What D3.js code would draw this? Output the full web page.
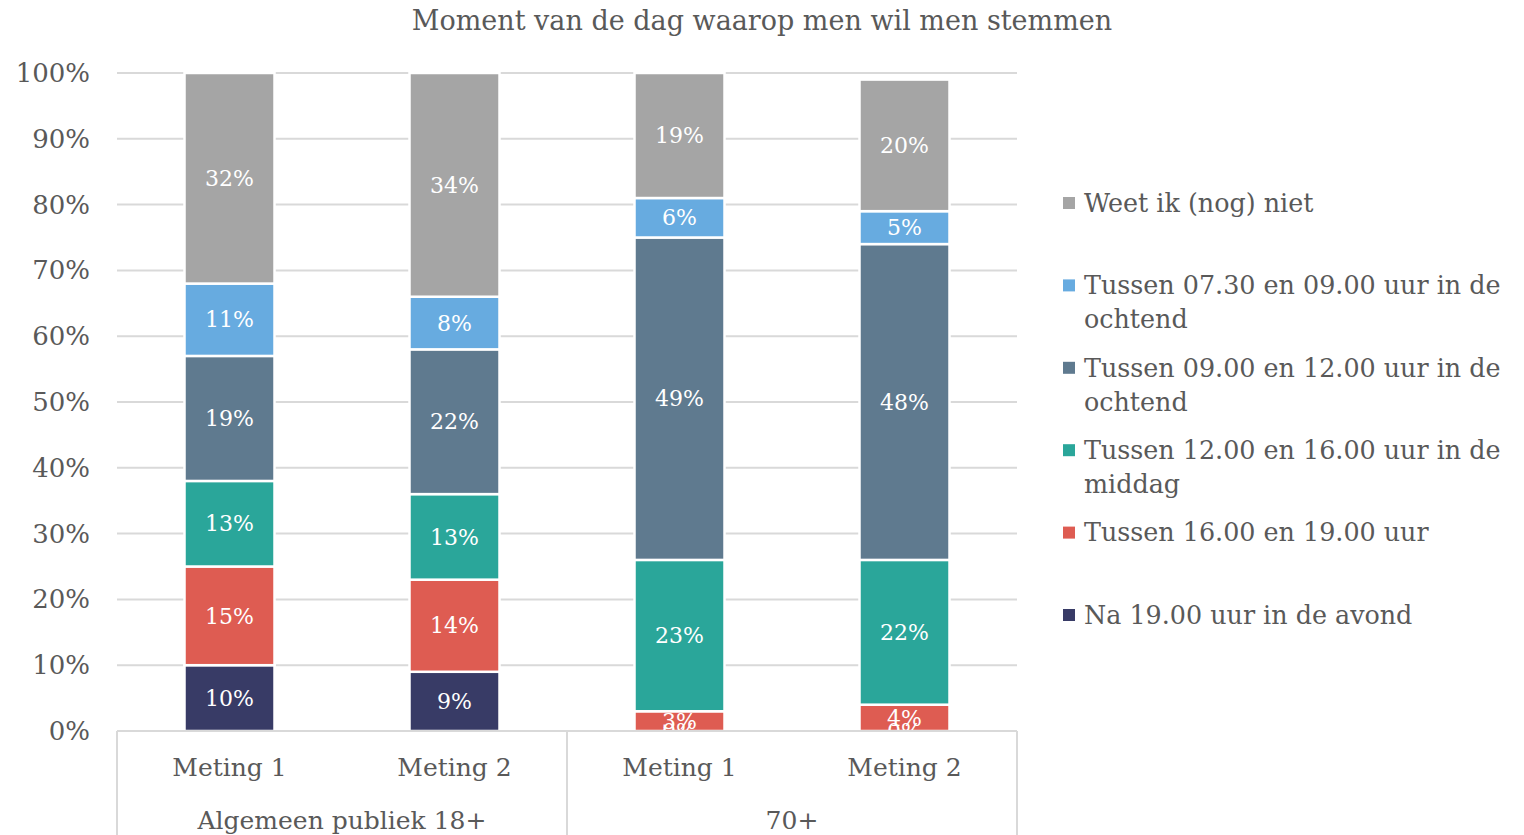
<!DOCTYPE html>
<html>
<head>
<meta charset="utf-8">
<script src="https://cdn.jsdelivr.net/npm/d3@7"></script>
<style>
  html, body { margin: 0; padding: 0; background: #fff; }
  svg { display: block; font-family: "DejaVu Serif", serif; }
</style>
</head>
<body>
<svg id="chart" width="1524" height="835"></svg>
<script>
// ---- data ----
const title = "Moment van de dag waarop men wil men stemmen";
const groups = ["Algemeen publiek 18+", "70+"];
const measurements = ["Meting 1", "Meting 2"];
const seriesNames = [
  "Na 19.00 uur in de avond",
  "Tussen 16.00 en 19.00 uur",
  "Tussen 12.00 en 16.00 uur in de middag",
  "Tussen 09.00 en 12.00 uur in de ochtend",
  "Tussen 07.30 en 09.00 uur in de ochtend",
  "Weet ik (nog) niet"
];
const seriesColors = ["#383b66", "#de5c52", "#2aa69a", "#5f7a8f", "#67abe0", "#a5a5a5"];
// values per bar (Algemeen M1, Algemeen M2, 70+ M1, 70+ M2), in percent
const naAvond      = [10, 9, 0, 0];
const tussen1619   = [15, 14, 3, 4];
const tussen1216   = [13, 13, 23, 22];
const tussen0912   = [19, 22, 49, 48];
const tussen0709   = [11, 8, 6, 5];
const weetNiet     = [32, 34, 19, 20];
const yTicks = [0, 10, 20, 30, 40, 50, 60, 70, 80, 90, 100];
// legend label lines (wrapped as in the picture)
const legendLines = [
  ["Weet ik (nog) niet"],
  ["Tussen 07.30 en 09.00 uur in de", "ochtend"],
  ["Tussen 09.00 en 12.00 uur in de", "ochtend"],
  ["Tussen 12.00 en 16.00 uur in de", "middag"],
  ["Tussen 16.00 en 19.00 uur"],
  ["Na 19.00 uur in de avond"]
];
const legendColors = ["#a5a5a5", "#67abe0", "#5f7a8f", "#2aa69a", "#de5c52", "#383b66"];

// ---- build table ----
const seriesValues = [naAvond, tussen1619, tussen1216, tussen0912, tussen0709, weetNiet];
const bars = [];
groups.forEach((g, gi) => measurements.forEach((m, mi) => {
  const idx = gi * measurements.length + mi;
  const row = { key: g + "|" + m, group: g, meting: m };
  seriesNames.forEach((s, si) => row[s] = seriesValues[si][idx]);
  bars.push(row);
}));

const svg = d3.select("#chart");
const plotLeft = 117, plotRight = 1017, plotTop = 73, plotBottom = 731;
const textColor = "#595959", gridColor = "#d9d9d9";

const x = d3.scaleBand().domain(bars.map(d => d.key)).range([plotLeft, plotRight]).paddingInner(0.6).paddingOuter(0.3);
const y = d3.scaleLinear().domain([0, 100]).range([plotBottom, plotTop]);

// gridlines
svg.append("g").selectAll("line").data(yTicks.filter(t => t > 0)).join("line")
  .attr("x1", plotLeft).attr("x2", plotRight)
  .attr("y1", d => y(d)).attr("y2", d => y(d))
  .attr("stroke", gridColor).attr("stroke-width", 2);

// y axis labels
const yAxis = d3.axisLeft(y).tickValues(yTicks).tickFormat(d => d + "%").tickSize(0).tickPadding(0);
const yg = svg.append("g").attr("transform", `translate(${90},0)`).call(yAxis);
yg.select(".domain").remove();
yg.selectAll("text").attr("fill", textColor).style("font-size", "26px")
  .style("font-family", '"DejaVu Serif", serif').attr("dy", "0.33em");

// stacked bars
const stack = d3.stack().keys(seriesNames);
const stacked = stack(bars);

svg.append("defs").append("clipPath").attr("id", "plotclip")
  .append("rect").attr("x", plotLeft).attr("y", 0).attr("width", plotRight - plotLeft).attr("height", plotBottom);

const layers = svg.append("g").selectAll("g").data(stacked).join("g")
  .attr("fill", (d, i) => seriesColors[i]);
layers.selectAll("rect").data(d => d).join("rect")
  .attr("x", d => x(d.data.key))
  .attr("width", x.bandwidth())
  .attr("y", d => y(d[1]))
  .attr("height", d => Math.max(0, y(d[0]) - y(d[1])))
  .attr("stroke", "#fff").attr("stroke-width", 2.5);

// data labels
const labG = svg.append("g").attr("clip-path", "url(#plotclip)");
stacked.forEach((layer, si) => {
  labG.append("g").selectAll("text").data(layer).join("text")
    .attr("x", d => x(d.data.key) + x.bandwidth() / 2)
    .attr("y", d => y((d[0] + d[1]) / 2))
    .attr("dy", "0.35em")
    .attr("text-anchor", "middle")
    .attr("fill", "#fff")
    .style("font-size", "22px")
    .text(d => (d[1] - d[0]) + "%");
});

// x axis box (multi-level)
const axisG = svg.append("g").attr("stroke", gridColor).attr("stroke-width", 2).attr("fill", "none");
axisG.append("line").attr("x1", plotLeft).attr("x2", plotRight).attr("y1", plotBottom).attr("y2", plotBottom);
const groupEdges = [plotLeft];
groups.forEach((g, gi) => {
  const keys = bars.filter(b => b.group === g).map(b => b.key);
  const last = keys[keys.length - 1];
  const end = gi === groups.length - 1 ? plotRight : (x(last) + x.bandwidth() + x(bars[bars.findIndex(b => b.key === last) + 1].key)) / 2;
  groupEdges.push(end);
});
groupEdges.forEach(e => axisG.append("line").attr("x1", e).attr("x2", e).attr("y1", plotBottom).attr("y2", 835));

// category labels
svg.append("g").selectAll("text").data(bars).join("text")
  .attr("x", d => x(d.key) + x.bandwidth() / 2)
  .attr("y", 767).attr("dy", "0.35em")
  .attr("text-anchor", "middle").attr("fill", textColor)
  .style("font-size", "25px").text(d => d.meting);

svg.append("g").selectAll("text").data(groups).join("text")
  .attr("x", (d, i) => (groupEdges[i] + groupEdges[i + 1]) / 2)
  .attr("y", 820).attr("dy", "0.35em")
  .attr("text-anchor", "middle").attr("fill", textColor)
  .style("font-size", "25px").text(d => d);

// title
svg.append("text").attr("x", 762).attr("y", 21).attr("dy", "0.35em")
  .attr("text-anchor", "middle").attr("fill", textColor)
  .style("font-size", "27px").text(title);

// legend
const legStep = 82.4, legTop = 203, lineH = 34;
const leg = svg.append("g");
legendLines.forEach((lines, i) => {
  const cy = legTop + i * legStep;
  leg.append("rect").attr("x", 1063).attr("y", cy - 6).attr("width", 12).attr("height", 12)
    .attr("fill", legendColors[i]);
  lines.forEach((ln, li) => {
    leg.append("text").attr("x", 1084).attr("y", cy + li * lineH).attr("dy", "0.35em")
      .attr("fill", textColor).style("font-size", "25.4px").text(ln);
  });
});
</script>
</body>
</html>
